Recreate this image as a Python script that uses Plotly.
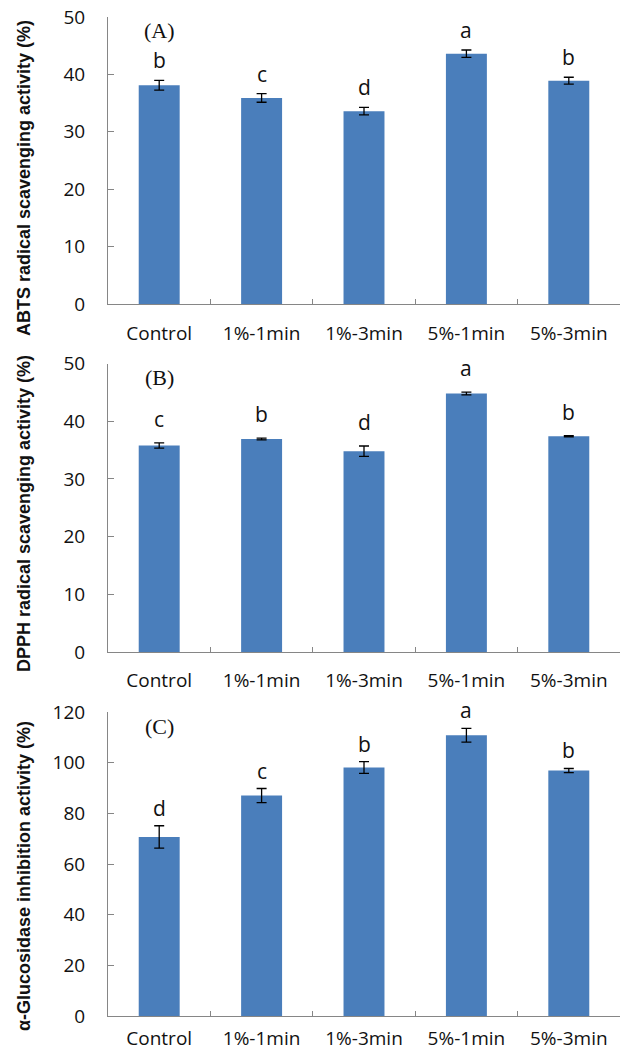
import plotly.graph_objects as go

categories = ["Control", "1%-1min", "1%-3min", "5%-1min", "5%-3min"]

abts_values = [38.1, 35.9, 33.6, 43.6, 38.9]
abts_errors = [0.85, 0.75, 0.65, 0.65, 0.6]
abts_letters = ["b", "c", "d", "a", "b"]

dpph_values = [35.8, 36.9, 34.8, 44.8, 37.4]
dpph_errors = [0.45, 0.15, 0.9, 0.25, 0.1]
dpph_letters = ["c", "b", "d", "a", "b"]

gluc_values = [70.7, 87.0, 98.1, 110.8, 96.9]
gluc_errors = [4.4, 2.8, 2.3, 2.7, 0.8]
gluc_letters = ["d", "c", "b", "a", "b"]

panel_labels = ["(A)", "(B)", "(C)"]
y_titles = ["ABTS radical scavenging activity (%)",
            "DPPH radical scavenging activity (%)",
            "\u03b1-Glucosidase inhibition activity (%)"]
y_ranges = [[0, 50], [0, 50], [0, 120]]
y_dtick = [10, 10, 20]

W, H = 625, 1055
BAR = "#4a7ebb"
AXC = "#868686"
TICKFONT = dict(family="Open Sans, Noto Sans, sans-serif", size=19, color="#111111")

# pixel layout of each panel (top, bottom)
panels_px = [(17, 304), (363.5, 652), (712, 1016)]
x_px = (108, 620)
title_center_px = [178, 514, 876]
letter_shift = [20, 24, 18]
xlabel_standoff = [12, 11, 5]

datasets = [
    (abts_values, abts_errors, abts_letters),
    (dpph_values, dpph_errors, dpph_letters),
    (gluc_values, gluc_errors, gluc_letters),
]

fig = go.Figure()
annotations = []
layout = {}

for i, (vals, errs, letters) in enumerate(datasets):
    sfx = "" if i == 0 else str(i + 1)
    xa, ya = "x" + sfx, "y" + sfx
    fig.add_trace(go.Bar(
        x=categories, y=vals,
        xaxis=xa, yaxis=ya,
        marker=dict(color=BAR, line=dict(width=0)),
        error_y=dict(type="data", array=errs, visible=True,
                     color="#000000", thickness=1.3, width=5),
        showlegend=False, hoverinfo="skip",
    ))
    top, bot = panels_px[i]
    layout["xaxis" + sfx] = dict(
        domain=[x_px[0] / W, x_px[1] / W],
        anchor=ya, type="category", automargin=False,
        showline=True, linecolor=AXC, linewidth=1,
        ticks="inside", tickson="boundaries", ticklen=5, tickcolor=AXC,
        tickfont=TICKFONT, ticklabelstandoff=xlabel_standoff[i],
        showgrid=False, zeroline=False, fixedrange=True,
    )
    layout["yaxis" + sfx] = dict(
        domain=[1 - bot / H, 1 - top / H],
        anchor=xa, range=y_ranges[i], dtick=y_dtick[i], automargin=False,
        showline=True, linecolor=AXC, linewidth=1,
        ticks="inside", ticklen=6, tickcolor=AXC,
        tickfont=TICKFONT, ticklabelstandoff=18,
        showgrid=False, zeroline=False, fixedrange=True,
    )
    # significance letters
    for c, v, e, l in zip(categories, vals, errs, letters):
        annotations.append(dict(
            x=c, y=v + e, xref=xa, yref=ya, text=l, showarrow=False,
            yanchor="middle", yshift=letter_shift[i],
            font=dict(family="Open Sans, Noto Sans, sans-serif", size=21, color="#111111"),
        ))
    # panel label
    annotations.append(dict(
        x=categories[0], y=0.952, xref=xa, yref=ya + " domain",
        text=panel_labels[i], showarrow=False, xanchor="center", yanchor="middle",
        font=dict(family="Liberation Serif, Times New Roman, serif", size=22, color="#111111"),
    ))
    # y-axis title
    annotations.append(dict(
        x=24 / W, y=1 - title_center_px[i] / H, xref="paper", yref="paper",
        text="<b>" + y_titles[i] + "</b>", showarrow=False, textangle=-90,
        xanchor="center", yanchor="middle",
        font=dict(family="Liberation Sans, Arial, sans-serif",
                  size=18, color="#111111"),
    ))

fig.update_layout(
    width=W, height=H,
    margin=dict(l=0, r=0, t=0, b=0, autoexpand=False),
    paper_bgcolor="white", plot_bgcolor="white",
    bargap=0.6, showlegend=False,
    annotations=annotations,
    **layout,
)

fig.write_html(
    "out.html",
    config={"displayModeBar": False},
    post_script="document.body.style.margin='0';document.body.style.overflow='hidden';",
)
